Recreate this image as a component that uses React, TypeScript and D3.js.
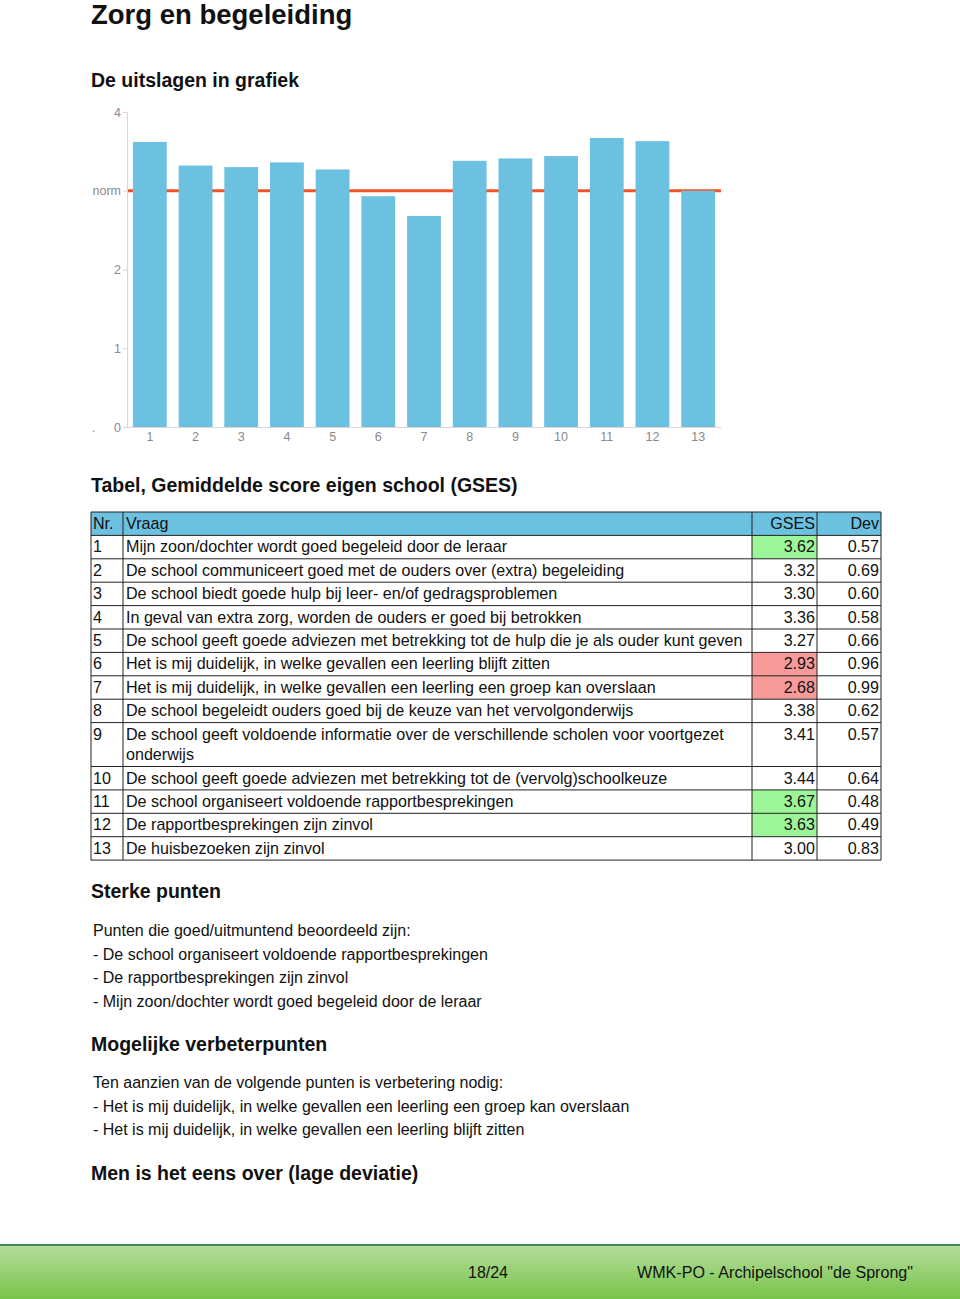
import React, { useEffect, useRef } from "react";
import * as d3 from "d3";

const questionNumbers = [1, 2, 3, 4, 5, 6, 7, 8, 9, 10, 11, 12, 13];
const questionLines: string[][] = [
  ["Mijn zoon/dochter wordt goed begeleid door de leraar"],
  ["De school communiceert goed met de ouders over (extra) begeleiding"],
  ["De school biedt goede hulp bij leer- en/of gedragsproblemen"],
  ["In geval van extra zorg, worden de ouders er goed bij betrokken"],
  ["De school geeft goede adviezen met betrekking tot de hulp die je als ouder kunt geven"],
  ["Het is mij duidelijk, in welke gevallen een leerling blijft zitten"],
  ["Het is mij duidelijk, in welke gevallen een leerling een groep kan overslaan"],
  ["De school begeleidt ouders goed bij de keuze van het vervolgonderwijs"],
  ["De school geeft voldoende informatie over de verschillende scholen voor voortgezet", "onderwijs"],
  ["De school geeft goede adviezen met betrekking tot de (vervolg)schoolkeuze"],
  ["De school organiseert voldoende rapportbesprekingen"],
  ["De rapportbesprekingen zijn zinvol"],
  ["De huisbezoeken zijn zinvol"],
];
const gsesValues = [3.62, 3.32, 3.3, 3.36, 3.27, 2.93, 2.68, 3.38, 3.41, 3.44, 3.67, 3.63, 3.0];
const devValues = [0.57, 0.69, 0.6, 0.58, 0.66, 0.96, 0.99, 0.62, 0.57, 0.64, 0.48, 0.49, 0.83];
const highlight = ["good", "", "", "", "", "bad", "bad", "", "", "", "good", "good", ""];
const normValue = 3;
const yTickValues = [0, 1, 2, 3, 4];

const sterkePunten = [
  "Punten die goed/uitmuntend beoordeeld zijn:",
  "- De school organiseert voldoende rapportbesprekingen",
  "- De rapportbesprekingen zijn zinvol",
  "- Mijn zoon/dochter wordt goed begeleid door de leraar",
];
const verbeterPunten = [
  "Ten aanzien van de volgende punten is verbetering nodig:",
  "- Het is mij duidelijk, in welke gevallen een leerling een groep kan overslaan",
  "- Het is mij duidelijk, in welke gevallen een leerling blijft zitten",
];

const FONT = "'Liberation Sans', Arial, Helvetica, sans-serif";
const BAR = "#6cc0e0";
const NORM = "#f0552a";

export default function App() {
  const yAxisRef = useRef<SVGGElement>(null);
  const xAxisRef = useRef<SVGGElement>(null);

  const x = d3
    .scaleBand<number>()
    .domain(questionNumbers)
    .range([127, 721])
    .paddingInner(0.26)
    .paddingOuter(0.13);
  const y = d3.scaleLinear().domain([0, 4]).range([427, 112]);

  useEffect(() => {
    if (yAxisRef.current) {
      const g = d3.select(yAxisRef.current);
      g.selectAll("*").remove();
      g.call(
        d3
          .axisLeft(y)
          .tickValues(yTickValues)
          .tickSize(4)
          .tickPadding(2)
          .tickFormat((d) => (d === normValue ? "norm" : String(d)))
      );
      g.select(".domain").attr("stroke", "#d8d8d8");
      g.selectAll(".tick line").attr("stroke", "#d8d8d8");
      g.selectAll(".tick text")
        .attr("fill", "#8a8a8a")
        .attr("font-size", 12.5)
        .attr("font-family", FONT);
    }
    if (xAxisRef.current) {
      const g = d3.select(xAxisRef.current);
      g.selectAll("*").remove();
      g.call(d3.axisBottom(x).tickSize(0).tickPadding(5));
      g.select(".domain").attr("stroke", "#d8d8d8");
      g.selectAll(".tick text")
        .attr("fill", "#8a8a8a")
        .attr("font-size", 12.5)
        .attr("font-family", FONT);
    }
  });

  // table layout
  const tableLeft = 91;
  const colX = [91, 123, 752, 817, 881];
  const rowH = 23.4;
  const headerTop = 512;
  const rowTops: number[] = [];
  let cur = headerTop + rowH;
  questionLines.forEach((lines) => {
    rowTops.push(cur);
    cur += rowH + (lines.length - 1) * 20.5;
  });
  const tableBottom = cur;

  const fillFor = (h: string) => (h === "good" ? "#9df59a" : h === "bad" ? "#f79a9a" : "none");

  return (
    <svg
      width={960}
      height={1299}
      style={{ position: "absolute", left: 0, top: 0, display: "block", background: "#fff" }}
      fontFamily={FONT}
    >
      <text x={91} y={24} fontSize={27.5} fontWeight="bold" fill="#111">
        Zorg en begeleiding
      </text>
      <text x={91} y={87} fontSize={19.5} fontWeight="bold" fill="#111">
        De uitslagen in grafiek
      </text>

      {/* chart */}
      <line x1={127} x2={721} y1={y(normValue)} y2={y(normValue)} stroke={NORM} strokeWidth={3} />
      {gsesValues.map((v, i) => (
        <rect
          key={i}
          x={x(questionNumbers[i])}
          y={y(v)}
          width={x.bandwidth()}
          height={y(0) - y(v)}
          fill={BAR}
        />
      ))}
      <g ref={xAxisRef} transform={`translate(0,${y(0)})`} />
      <g ref={yAxisRef} transform="translate(127,0)" />
      <text x={92} y={432} fontSize={12} fill="#8a8a8a">.</text>

      <text x={91} y={492} fontSize={19.5} fontWeight="bold" fill="#111">
        Tabel, Gemiddelde score eigen school (GSES)
      </text>

      {/* table */}
      <rect x={tableLeft} y={headerTop} width={colX[4] - tableLeft} height={rowH} fill={BAR} />
      {gsesValues.map((v, i) => {
        const top = rowTops[i];
        const h = rowH + (questionLines[i].length - 1) * 20.5;
        const f = fillFor(highlight[i]);
        return f !== "none" ? (
          <rect key={"f" + i} x={colX[2]} y={top} width={colX[3] - colX[2]} height={h} fill={f} />
        ) : null;
      })}
      {[headerTop, ...rowTops, tableBottom].map((yy, i) => (
        <line key={"h" + i} x1={tableLeft} x2={colX[4]} y1={yy} y2={yy} stroke="#222" strokeWidth={1} />
      ))}
      {colX.map((xx, i) => (
        <line key={"v" + i} x1={xx} x2={xx} y1={headerTop} y2={tableBottom} stroke="#222" strokeWidth={1} />
      ))}
      <g fontSize={16.1} fill="#111">
        <text x={93} y={headerTop + 17}>Nr.</text>
        <text x={126} y={headerTop + 17}>Vraag</text>
        <text x={colX[3] - 2} y={headerTop + 17} textAnchor="end">GSES</text>
        <text x={colX[4] - 2} y={headerTop + 17} textAnchor="end">Dev</text>
        {questionNumbers.map((n, i) => {
          const top = rowTops[i];
          return (
            <g key={"r" + i}>
              <text x={93} y={top + 17}>{n}</text>
              {questionLines[i].map((ln, j) => (
                <text key={j} x={126} y={top + 17 + j * 20.5}>{ln}</text>
              ))}
              <text x={colX[3] - 2} y={top + 17} textAnchor="end">{gsesValues[i].toFixed(2)}</text>
              <text x={colX[4] - 2} y={top + 17} textAnchor="end">{devValues[i].toFixed(2)}</text>
            </g>
          );
        })}
      </g>

      <text x={91} y={898} fontSize={19.5} fontWeight="bold" fill="#111">Sterke punten</text>
      {sterkePunten.map((t, i) => (
        <text key={"s" + i} x={93} y={936 + i * 23.5} fontSize={16} fill="#111">{t}</text>
      ))}
      <text x={91} y={1051} fontSize={19.5} fontWeight="bold" fill="#111">Mogelijke verbeterpunten</text>
      {verbeterPunten.map((t, i) => (
        <text key={"v" + i} x={93} y={1088 + i * 23.5} fontSize={16} fill="#111">{t}</text>
      ))}
      <text x={91} y={1180} fontSize={19.5} fontWeight="bold" fill="#111">Men is het eens over (lage deviatie)</text>

      {/* footer */}
      <defs>
        <linearGradient id="foot" x1="0" y1="0" x2="0" y2="1">
          <stop offset="0" stopColor="#b7dd9e" />
          <stop offset="1" stopColor="#78c44a" />
        </linearGradient>
      </defs>
      <rect x={0} y={1244} width={960} height={55} fill="url(#foot)" />
      <line x1={0} x2={960} y1={1245} y2={1245} stroke="#3d8a5a" strokeWidth={2} />
      <text x={488} y={1278} fontSize={16} fill="#111" textAnchor="middle" textLength={40} lengthAdjust="spacingAndGlyphs">18/24</text>
      <text x={913} y={1278} fontSize={16} fill="#111" textAnchor="end" textLength={276} lengthAdjust="spacingAndGlyphs">WMK-PO - Archipelschool "de Sprong"</text>
    </svg>
  );
}
